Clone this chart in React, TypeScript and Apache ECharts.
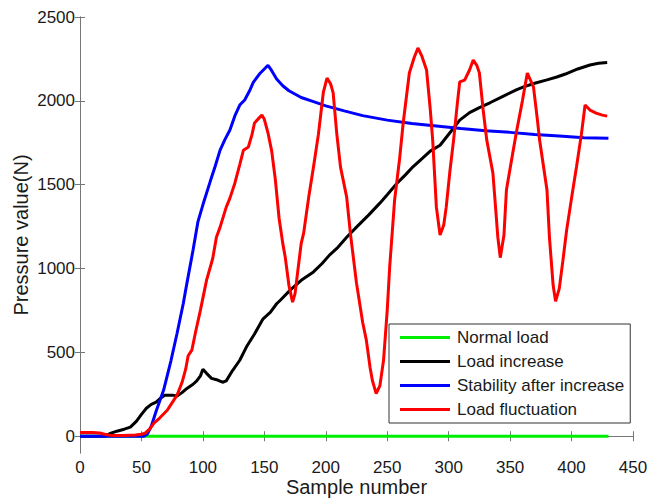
import React, { useEffect, useRef } from "react";
import * as echarts from "echarts";

const xTicks = [0, 50, 100, 150, 200, 250, 300, 350, 400, 450];
const yTicks = [0, 500, 1000, 1500, 2000, 2500];

const seriesNames = [
  "Normal load",
  "Load increase",
  "Stability after increase",
  "Load fluctuation",
];
const seriesColors = ["#00ee00", "#000000", "#0000ff", "#ff0000"];

const normalLoad: [number, number][] = [
  [0, 0], [100, 0], [200, 0], [300, 0], [430, 0],
];

const loadIncrease: [number, number][] = [
  [0, 0], [20, 0], [24, 15], [30, 30], [36, 42], [41, 54], [46, 90], [50, 130], [54, 167],
  [58, 190], [62, 203], [66, 230], [69, 245], [75, 245], [79, 240], [83, 260], [87, 285],
  [92, 310], [95, 330], [98, 360], [100, 400], [103, 375], [107, 345], [112, 335], [116, 322],
  [119, 330], [124, 390], [130, 453], [136, 540], [142, 610], [149, 700], [155, 740],
  [160, 790], [163, 811], [171, 871], [180, 930], [190, 980], [197, 1030], [203, 1080],
  [209, 1120], [217, 1187], [225, 1247], [235, 1320], [244, 1390], [250, 1440], [258, 1509],
  [265, 1560], [270, 1600], [277, 1647], [285, 1700], [293, 1735], [301, 1810], [309, 1885],
  [317, 1930], [325, 1960], [334, 1990], [345, 2030], [355, 2065], [361, 2083], [370, 2105],
  [380, 2125], [388, 2142], [395, 2160], [405, 2190], [415, 2214], [422, 2224], [429, 2228],
];

const stabilityAfterIncrease: [number, number][] = [
  [0, 0], [52, 0], [55, 15], [58, 60], [62, 150], [68, 274], [74, 450], [79, 614], [84, 790],
  [87, 913], [92, 1110], [96, 1280], [100, 1380], [106, 1520], [110, 1610], [114, 1706],
  [118, 1770], [122, 1826], [126, 1910], [130, 1975], [134, 2005], [138, 2060], [141, 2110],
  [146, 2160], [150, 2190], [153, 2212], [156, 2180], [160, 2130], [165, 2090], [170, 2060],
  [180, 2020], [190, 1995], [200, 1970], [215, 1940], [230, 1912], [250, 1885], [270, 1865],
  [290, 1850], [310, 1835], [330, 1822], [350, 1812], [370, 1800], [390, 1790], [410, 1780],
  [430, 1777],
];

const loadFluctuation: [number, number][] = [
  [0, 22], [10, 22], [16, 20], [20, 12], [25, 5], [35, 5], [45, 8], [50, 12], [53, 18],
  [57, 45], [60, 77], [65, 110], [71, 155], [75, 200], [79, 245], [83, 320], [86, 400],
  [88, 480], [91, 513], [94, 620], [98, 752], [103, 931], [108, 1060], [111, 1187],
  [114, 1247], [119, 1366], [122, 1420], [126, 1509], [130, 1620], [133, 1706], [137, 1725],
  [140, 1800], [142, 1868], [146, 1900], [148, 1915], [150, 1890], [153, 1808], [156, 1700],
  [159, 1527], [162, 1300], [165, 1150], [167, 1068], [170, 900], [173, 800], [175, 850],
  [177, 972], [180, 1150], [182, 1211], [186, 1420], [190, 1605], [194, 1800], [198, 2050],
  [201, 2136], [204, 2100], [206, 2047], [209, 1800], [212, 1605], [217, 1426], [220, 1211],
  [225, 913], [230, 680], [233, 573], [236, 412], [238, 330], [241, 255], [244, 300],
  [247, 453], [250, 750], [252, 1008], [256, 1408], [260, 1650], [263, 1868], [268, 2166],
  [272, 2260], [275, 2315], [278, 2270], [282, 2184], [285, 1950], [287, 1766], [290, 1366],
  [293, 1200], [296, 1260], [298, 1366], [301, 1580], [304, 1766], [307, 1980], [309, 2113],
  [313, 2124], [317, 2184], [320, 2243], [323, 2210], [325, 2166], [328, 1950], [331, 1766],
  [336, 1569], [338, 1380], [340, 1187], [342, 1065], [345, 1200], [347, 1468], [351, 1640],
  [355, 1808], [360, 2000], [364, 2166], [369, 2083], [372, 1900], [374, 1766], [380, 1468],
  [382, 1187], [385, 900], [387, 805], [390, 880], [393, 1050], [396, 1229], [400, 1420],
  [404, 1605], [408, 1800], [411, 1975], [415, 1945], [420, 1927], [425, 1915], [429, 1909],
];

const allData = [normalLoad, loadIncrease, stabilityAfterIncrease, loadFluctuation];

const FONT = "'Liberation Sans', Arial, sans-serif";
const AXIS_COLOR = "#777777";
const TEXT_COLOR = "#1a1a1a";

export default function App() {
  const ref = useRef<HTMLDivElement>(null);

  useEffect(() => {
    if (!ref.current) return;
    const chart = echarts.init(ref.current, null, { renderer: "svg" });

    const axisLine = { show: true, lineStyle: { color: AXIS_COLOR, width: 1 } };
    const tickInside = { show: true, inside: true, length: 5, lineStyle: { color: AXIS_COLOR } };
    const plain = (v: number) => String(v);

    chart.setOption({
      animation: false,
      backgroundColor: "#ffffff",
      textStyle: { fontFamily: FONT },
      grid: {
        left: 80, top: 17, right: 14, bottom: 47,
        containLabel: false, outerBoundsMode: "none",
      },
      legend: {
        data: seriesNames,
        orient: "vertical",
        left: 389,
        top: 324,
        icon: "rect",
        itemWidth: 50,
        itemHeight: 3,
        itemGap: 7,
        padding: [5, 6, 5, 11],
        backgroundColor: "#ffffff",
        borderColor: "#333333",
        borderWidth: 1,
        textStyle: { fontFamily: FONT, fontSize: 17, color: TEXT_COLOR, padding: [0, 0, 0, 2] },
      },
      xAxis: [
        {
          type: "value",
          min: 0,
          max: 450,
          interval: 50,
          name: "Sample number",
          nameLocation: "middle",
          nameGap: 24,
          nameMoveOverlap: false,
          nameTextStyle: { fontFamily: FONT, fontSize: 20, color: TEXT_COLOR },
          axisLine,
          axisTick: tickInside,
          axisLabel: {
            fontFamily: FONT, fontSize: 17, color: TEXT_COLOR, margin: 6,
            customValues: xTicks, formatter: plain,
          },
          splitLine: { show: false },
        },
        {
          type: "value",
          position: "top",
          min: 0,
          max: 450,
          interval: 50,
          axisLine,
          axisTick: tickInside,
          axisLabel: { show: false },
          splitLine: { show: false },
        },
      ],
      yAxis: [
        {
          type: "value",
          min: -100,
          max: 2500,
          name: "Pressure value(N)",
          nameLocation: "middle",
          nameGap: 49,
          nameMoveOverlap: false,
          nameTextStyle: { fontFamily: FONT, fontSize: 20, color: TEXT_COLOR },
          axisLine,
          axisTick: { ...tickInside, customValues: yTicks },
          axisLabel: {
            fontFamily: FONT, fontSize: 17, color: TEXT_COLOR, margin: 5,
            customValues: yTicks, formatter: plain,
          },
          splitLine: { show: false },
        },
        {
          type: "value",
          position: "right",
          min: -100,
          max: 2500,
          axisLine,
          axisTick: { ...tickInside, customValues: yTicks },
          axisLabel: { show: false, customValues: yTicks },
          splitLine: { show: false },
        },
      ],
      series: seriesNames.map((name, i) => ({
        name,
        type: "line",
        data: allData[i],
        showSymbol: false,
        symbol: "none",
        color: seriesColors[i],
        lineStyle: { color: seriesColors[i], width: 3 },
        z: 2 + i,
      })),
    });

    return () => chart.dispose();
  }, []);

  return (
    <div
      ref={ref}
      style={{ position: "fixed", left: 0, top: 0, width: 647, height: 500, background: "#fff" }}
    />
  );
}
